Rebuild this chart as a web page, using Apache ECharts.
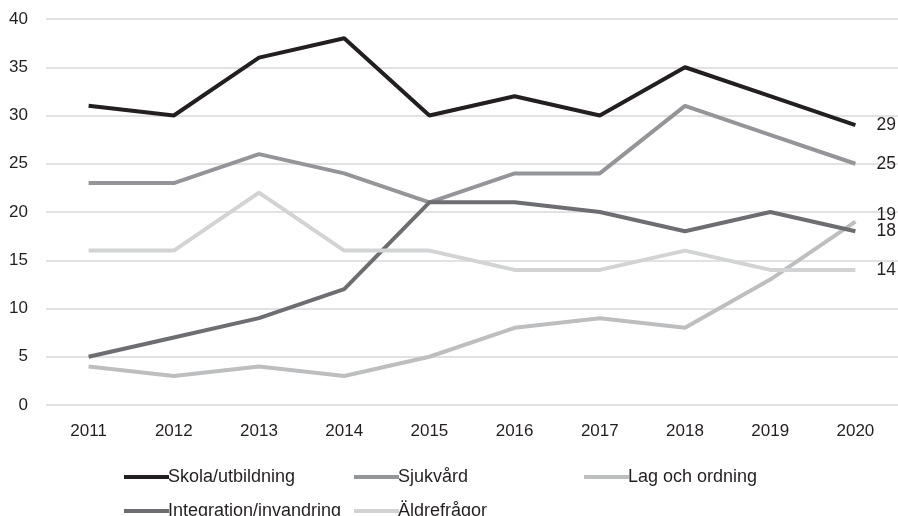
<!DOCTYPE html>
<html>
<head>
<meta charset="utf-8">
<script src="https://cdn.jsdelivr.net/npm/echarts@6/dist/echarts.min.js"></script>
<style>
  html, body { margin: 0; padding: 0; background: #fff; }
  #chart { width: 898px; height: 516px; }
</style>
</head>
<body>
<div id="chart"></div>
<script>
var years = ['2011', '2012', '2013', '2014', '2015', '2016', '2017', '2018', '2019', '2020'];
var yTicks = [0, 5, 10, 15, 20, 25, 30, 35, 40];

var skola = [31, 30, 36, 38, 30, 32, 30, 35, 32, 29];
var sjukvard = [23, 23, 26, 24, 21, 24, 24, 31, 28, 25];
var lagOrdning = [4, 3, 4, 3, 5, 8, 9, 8, 13, 19];
var integration = [5, 7, 9, 12, 21, 21, 20, 18, 20, 18];
var aldre = [16, 16, 22, 16, 16, 14, 14, 16, 14, 14];

var textColor = '#231f20';
var font = 'Liberation Sans, Arial, sans-serif';

function linje(namn, data, farg, labelOffset) {
    return {
        name: namn,
        type: 'line',
        data: data,
        symbol: 'none',
        lineStyle: { color: farg, width: 4 },
        itemStyle: { color: farg },
        endLabel: {
            show: true,
            distance: 21,
            offset: labelOffset || [0, 0],
            color: textColor,
            fontSize: 17.5,
            fontFamily: font,
            formatter: function (p) {
                return String(data[data.length - 1]);
            }
        }
    };
}

var myChart = echarts.init(document.getElementById('chart'));

var option = {
    animation: false,
    grid: { left: 46, right: 0, top: 19, bottom: 111 },
    legend: {
        left: 119,
        top: 455,
        width: 720,
        icon: 'rect',
        itemWidth: 45,
        itemHeight: 4,
        itemGap: 0,
        textStyle: {
            color: textColor,
            fontSize: 18,
            fontFamily: font,
            width: 186,
            lineHeight: 34,
            padding: [0, 0, 0, -6]
        },
        data: ['Skola/utbildning', 'Sjukvård', 'Lag och ordning', 'Integration/invandring', 'Äldrefrågor']
    },
    xAxis: {
        type: 'category',
        data: years,
        boundaryGap: true,
        axisLine: { show: false },
        axisTick: { show: false },
        axisLabel: { color: textColor, fontSize: 17, fontFamily: font, margin: 18 }
    },
    yAxis: {
        type: 'value',
        min: yTicks[0],
        max: yTicks[yTicks.length - 1],
        interval: 5,
        axisLine: { show: false },
        axisTick: { show: false },
        axisLabel: { color: textColor, fontSize: 17, fontFamily: font, margin: 18 },
        splitLine: { lineStyle: { color: '#d9d9d9', width: 1.5 } }
    },
    series: [
        linje('Skola/utbildning', skola, '#231f20'),
        linje('Sjukvård', sjukvard, '#939598'),
        linje('Lag och ordning', lagOrdning, '#bcbec0', [0, -6]),
        linje('Integration/invandring', integration, '#6d6e71'),
        linje('Äldrefrågor', aldre, '#d1d3d4')
    ]
};

myChart.setOption(option);
</script>
</body>
</html>
